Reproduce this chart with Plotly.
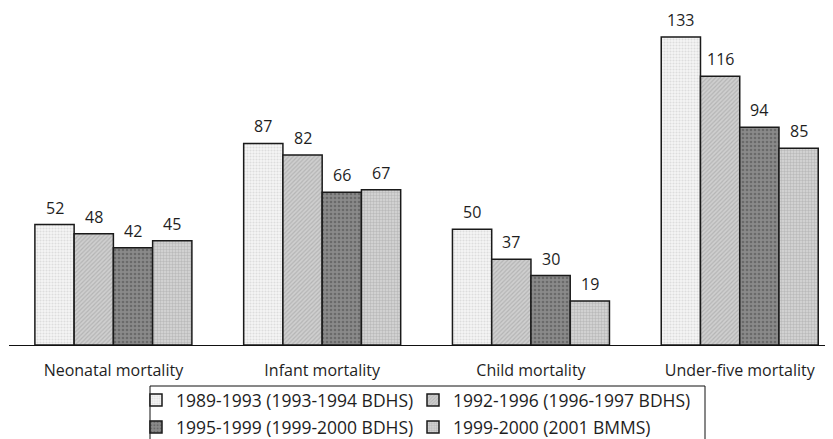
import plotly.graph_objects as go

# mortality rates (per 1000) for four survey periods
categories = ["Neonatal mortality", "Infant mortality", "Child mortality", "Under-five mortality"]
series_names = [
    "1989-1993 (1993-1994 BDHS)",
    "1992-1996 (1996-1997 BDHS)",
    "1995-1999 (1999-2000 BDHS)",
    "1999-2000 (2001 BMMS)",
]
vals_8993 = [52, 87, 50, 133]
vals_9296 = [48, 82, 37, 116]
vals_9599 = [42, 66, 30, 94]
vals_9900 = [45, 67, 19, 85]
all_vals = [vals_8993, vals_9296, vals_9599, vals_9900]

# grey print-style patterns
patterns = [
    dict(shape=".", bgcolor="#f6f6f6", fgcolor="#c4c4c4", size=3, solidity=0.4),
    dict(shape="/", bgcolor="#cfcfcf", fgcolor="#9a9a9a", size=3, solidity=0.4),
    dict(shape=".", bgcolor="#8a8a8a", fgcolor="#4a4a4a", size=4, solidity=0.35),
    dict(shape=".", bgcolor="#d8d8d8", fgcolor="#9c9c9c", size=3, solidity=0.5),
]
legend_ids = ["legend", "legend", "legend2", "legend2"]  # two rows of the key

font_name = "Open Sans"
txt_col = "#1e1e1e"
fsize = 16

W, H = 833, 439
ml, mr, mt, mb = 1, 0, 0, 102
xrange = [-0.5, 3.485]
bargap = 0.248
plot_w = W - ml - mr
plot_h = H - mt - mb
cat_px = plot_w / (xrange[1] - xrange[0])
bar_px = cat_px * (1 - bargap) / len(all_vals)

def px_x(px):
    return (px - ml) / plot_w

def px_y(py):
    return (H - mb - py) / plot_h

fig = go.Figure()
for name, vals, pat, lg in zip(series_names, all_vals, patterns, legend_ids):
    fig.add_trace(go.Bar(
        x=categories, y=vals, name=name, legend=lg,
        marker=dict(color=pat["bgcolor"], pattern=pat,
                    line=dict(color="#1a1a1a", width=1.5)),
    ))

# value labels above each bar
for i, vals in enumerate(all_vals):
    for cat, v in zip(categories, vals):
        fig.add_annotation(
            x=cat, y=v, text=str(v), showarrow=False,
            xanchor="center", yanchor="bottom",
            xshift=(i - 1.5) * bar_px, yshift=4,
            font=dict(size=fsize, color=txt_col, family=font_name),
        )

leg_common = dict(
    orientation="h", xanchor="left", yanchor="middle",
    borderwidth=0, bgcolor="rgba(0,0,0,0)",
    entrywidth=232, entrywidthmode="pixels", itemwidth=30,
    font=dict(size=17.5, color=txt_col, family=font_name),
)

fig.update_layout(
    width=W, height=H,
    margin=dict(l=ml, r=mr, t=mt, b=mb, autoexpand=False),
    paper_bgcolor="white", plot_bgcolor="white",
    font=dict(family=font_name, size=fsize, color=txt_col),
    barmode="group", bargap=bargap, bargroupgap=0,
    showlegend=True,
    legend=dict(x=px_x(128), y=px_y(392), **leg_common),
    legend2=dict(x=px_x(128), y=px_y(419), **leg_common),
)

# frame around the key
fig.add_shape(type="rect", xref="paper", yref="paper",
              x0=px_x(142), x1=px_x(697), y0=px_y(378), y1=px_y(470),
              line=dict(color="#111111", width=1), fillcolor="rgba(0,0,0,0)")

fig.update_xaxes(range=xrange, showline=True, linecolor="#111111", linewidth=1.2,
                 ticks="", showgrid=False, ticklabelstandoff=11)
fig.update_yaxes(range=[0, 145.5], visible=False, showgrid=False)

fig.write_html("out.html")
